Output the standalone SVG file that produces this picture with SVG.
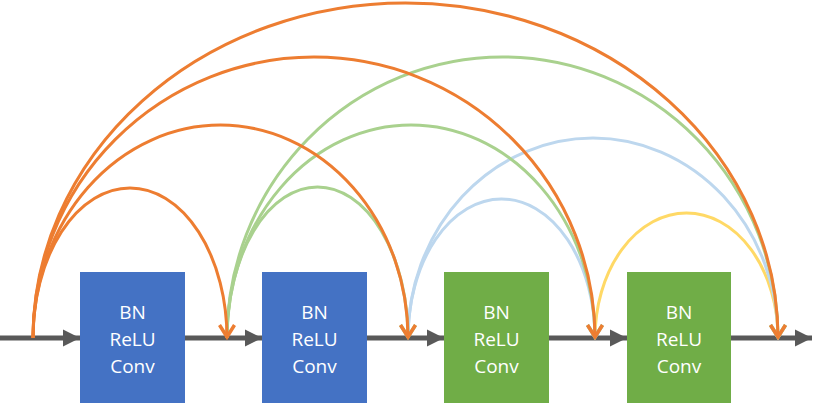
<svg xmlns="http://www.w3.org/2000/svg" width="829" height="404" viewBox="0 0 829 404">
<style>
.box{stroke:none}
.blue{fill:#4472C4}
.grn{fill:#70AD47}
.lbl{font-family:"Open Sans","Noto Sans",sans-serif;font-size:19px;fill:#FFFFFF;text-anchor:middle}
.main{stroke:#595959;stroke-width:5;fill:none}
.arc{fill:none;stroke-width:3}
.o{stroke:#ED7D31}
.g{stroke:#A9D18E}
.b{stroke:#BDD7EE}
.y{stroke:#FFD966}
</style>
<defs>
<marker id="tri" markerUnits="userSpaceOnUse" markerWidth="20" markerHeight="20" refX="17" refY="8.5" orient="auto" overflow="visible">
<path d="M0,0 L17,8.5 L0,17 Z" fill="#595959"/>
</marker>
<marker id="ao" markerUnits="userSpaceOnUse" markerWidth="20" markerHeight="20" refX="0" refY="0" orient="auto" overflow="visible">
<path d="M-13,-7.5 L-1,0 L-13,7.5" fill="none" stroke="#ED7D31" stroke-width="3.5"/>
</marker>
<marker id="ag" markerUnits="userSpaceOnUse" markerWidth="20" markerHeight="20" refX="0" refY="0" orient="auto" overflow="visible">
<path d="M-13,-7.5 L-1,0 L-13,7.5" fill="none" stroke="#A9D18E" stroke-width="3.5"/>
</marker>
<marker id="ab" markerUnits="userSpaceOnUse" markerWidth="20" markerHeight="20" refX="0" refY="0" orient="auto" overflow="visible">
<path d="M-13,-7.5 L-1,0 L-13,7.5" fill="none" stroke="#BDD7EE" stroke-width="3.5"/>
</marker>
<marker id="ay" markerUnits="userSpaceOnUse" markerWidth="20" markerHeight="20" refX="0" refY="0" orient="auto" overflow="visible">
<path d="M-13,-7.5 L-1,0 L-13,7.5" fill="none" stroke="#FFD966" stroke-width="3.5"/>
</marker>
</defs>

<g id="node1"><rect class="box blue" x="80" y="272" width="105" height="131"/>
<text class="lbl" x="132.5" y="319">BN</text><text class="lbl" x="132.5" y="346">ReLU</text><text class="lbl" x="132.5" y="373">Conv</text></g>
<g id="node2"><rect class="box blue" x="262" y="272" width="105" height="131"/>
<text class="lbl" x="314.5" y="319">BN</text><text class="lbl" x="314.5" y="346">ReLU</text><text class="lbl" x="314.5" y="373">Conv</text></g>
<g id="node3"><rect class="box grn" x="444" y="272" width="105" height="131"/>
<text class="lbl" x="496.5" y="319">BN</text><text class="lbl" x="496.5" y="346">ReLU</text><text class="lbl" x="496.5" y="373">Conv</text></g>
<g id="node4"><rect class="box grn" x="627" y="272" width="104" height="131"/>
<text class="lbl" x="679" y="319">BN</text><text class="lbl" x="679" y="346">ReLU</text><text class="lbl" x="679" y="373">Conv</text></g>

<g id="connectors">
<path class="main" d="M0,338 H80" marker-end="url(#tri)"/>
<path class="main" d="M185,338 H262" marker-end="url(#tri)"/>
<path class="main" d="M367,338 H444" marker-end="url(#tri)"/>
<path class="main" d="M549,338 H627" marker-end="url(#tri)"/>
<path class="main" d="M731,338 H812" marker-end="url(#tri)"/>

<path class="arc y" d="M595,338 A91.5,125 0 0 1 778,338" marker-end="url(#ay)"/>
<path class="arc b" d="M408,338 A93.5,139 0 0 1 595,338" marker-end="url(#ab)"/>
<path class="arc b" d="M408,338 A185,200 0 0 1 778,338" marker-end="url(#ab)"/>
<path class="arc g" d="M227,338 A90.5,151 0 0 1 408,338" marker-end="url(#ag)"/>
<path class="arc g" d="M227,338 A184,213 0 0 1 595,338" marker-end="url(#ag)"/>
<path class="arc g" d="M227,338 A275.5,281 0 0 1 778,338" marker-end="url(#ag)"/>
<path class="arc o" d="M33,338 A97,150 0 0 1 227,338" marker-end="url(#ao)"/>
<path class="arc o" d="M33,338 A187.5,213 0 0 1 408,338" marker-end="url(#ao)"/>
<path class="arc o" d="M33,338 A281,281 0 0 1 595,338" marker-end="url(#ao)"/>
<path class="arc o" d="M33,338 A372.5,335 0 0 1 778,338" marker-end="url(#ao)"/>
</g>
</svg>
